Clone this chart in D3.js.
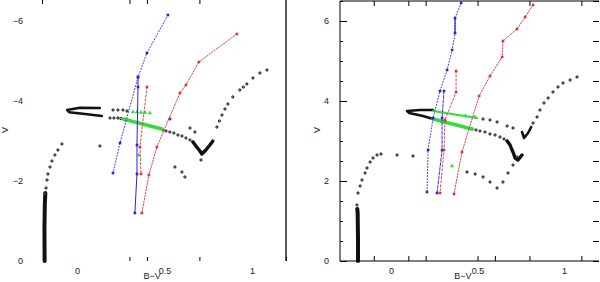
<!DOCTYPE html>
<html>
<head>
<meta charset="utf-8">
<script src="https://cdn.jsdelivr.net/npm/d3@7"></script>
<style>
body { margin: 0; background: #fff; }
svg { display: block; }
text { font-family: "Liberation Sans", Arial, sans-serif; font-size: 9px; fill: #222; }
</style>
</head>
<body>
<svg id="chart" width="600" height="282"></svg>
<script>
// --- left panel data (B-V, V) ---
const leftMS = [[-0.185, 0], [-0.186, -0.8], [-0.184, -1.4], [-0.181, -1.7]];
const leftSG = [[-0.183, -1.675], [-0.177, -1.825], [-0.171, -2.025], [-0.166, -2.175], [-0.154, -2.35], [-0.143, -2.5], [-0.126, -2.65], [-0.109, -2.775], [-0.086, -2.925], [0.131, -2.875]];
const leftHook = [[0.131, -3.825], [0.017, -3.83], [-0.057, -3.775], [-0.045, -3.72], [0.046, -3.675], [0.143, -3.625]];
const leftHookDots = [[0.206, -3.775], [0.234, -3.775], [0.263, -3.775], [0.286, -3.75], [0.189, -3.575], [0.211, -3.575], [0.234, -3.575], [0.251, -3.56]];
const leftGreenBand = [[0.263, -3.55], [0.486, -3.3]];
const leftGreenTri = [[0.32, -3.725], [0.343, -3.725], [0.366, -3.715], [0.389, -3.71], [0.417, -3.7], [0.354, -2.65]];
const leftRGB = [[0.491, -3.275], [0.509, -3.25], [0.531, -3.225], [0.554, -3.2], [0.577, -3.15], [0.6, -3.125], [0.623, -3.075], [0.646, -3.025], [0.663, -2.975]];
const leftClump = [[0.663, -2.975], [0.68, -2.875], [0.703, -2.75], [0.714, -2.675], [0.737, -2.775], [0.76, -2.9], [0.777, -3.0]];
const leftAGB = [[0.8, -3.35], [0.814, -3.5], [0.829, -3.65], [0.846, -3.8], [0.863, -3.925], [0.891, -4.1], [0.931, -4.275], [0.951, -4.35], [0.971, -4.425], [1.006, -4.575], [1.046, -4.7], [1.086, -4.775]];
const leftScatter = [[0.56, -2.35], [0.6, -2.225], [0.617, -2.1], [0.709, -2.525], [0.646, -3.325], [0.674, -3.225], [0.531, -3.55]];
const leftBlueA = [[0.52, -6.15], [0.4, -5.2], [0.349, -4.6], [0.246, -2.95], [0.206, -2.2]];
const leftBlueB = [[0.349, -4.6], [0.349, -4.35], [0.343, -2.9], [0.343, -2.175], [0.331, -1.2]];
const leftRedA = [[0.914, -5.675], [0.697, -4.975], [0.623, -4.4], [0.589, -4.2], [0.457, -2.85], [0.411, -2.15], [0.371, -1.2]];
const leftRedB = [[0.4, -4.35], [0.36, -2.85], [0.366, -2.175]];

// --- right panel data ---
const rightMS = [[-0.191, 0], [-0.191, 0.6], [-0.193, 1.2], [-0.195, 1.3]];
const rightSG = [[-0.197, 1.4], [-0.191, 1.7], [-0.179, 1.875], [-0.168, 2.025], [-0.15, 2.2], [-0.139, 2.325], [-0.121, 2.475], [-0.104, 2.575], [-0.081, 2.65], [-0.058, 2.675], [0.035, 2.65], [0.127, 2.625]];
const rightHook = [[0.243, 3.775], [0.168, 3.775], [0.092, 3.75], [0.105, 3.7], [0.185, 3.625], [0.243, 3.55]];
const rightGreenUpper = [[0.243, 3.75], [0.497, 3.575]];
const rightGreenBand = [[0.243, 3.55], [0.468, 3.3]];
const rightGreenTri = [[0.43, 3.625], [0.486, 3.6], [0.353, 2.375]];
const rightRGB = [[0.468, 3.3], [0.491, 3.275], [0.514, 3.25], [0.543, 3.225], [0.572, 3.175], [0.601, 3.15], [0.63, 3.1], [0.653, 3.05], [0.671, 3.0]];
const rightClump = [[0.671, 3.0], [0.688, 2.9], [0.697, 2.8], [0.705, 2.725], [0.717, 2.575], [0.734, 2.525], [0.757, 2.65]];
const rightUpperDots = [[0.532, 3.55], [0.572, 3.525], [0.613, 3.475], [0.671, 3.375], [0.705, 3.325]];
const rightCheck = [[0.757, 3.225], [0.769, 3.075], [0.792, 3.2], [0.81, 3.35]];
const rightAGB = [[0.821, 3.45], [0.844, 3.6], [0.861, 3.775], [0.884, 3.95], [0.908, 4.075], [0.936, 4.225], [0.965, 4.35], [0.994, 4.45], [1.035, 4.525], [1.075, 4.6]];
const rightLower = [[0.439, 2.225], [0.486, 2.175], [0.532, 2.1], [0.572, 1.975], [0.613, 1.825], [0.647, 1.975], [0.676, 2.2], [0.705, 2.4], [0.728, 2.6]];
const rightBlueA = [[0.405, 6.45], [0.37, 6.075], [0.37, 5.7], [0.353, 5.275], [0.324, 4.775], [0.283, 4.25], [0.243, 3.575], [0.214, 2.775], [0.208, 1.725]];
const rightBlueTop = [[0.37, 6.075], [0.37, 5.7]];
const rightBlueB = [[0.306, 4.25], [0.295, 3.575], [0.295, 2.775], [0.266, 1.7]];
const rightRedA = [[0.821, 6.4], [0.775, 6.1], [0.728, 5.8], [0.647, 5.5], [0.642, 5.1], [0.572, 4.625], [0.509, 4.125], [0.41, 2.725], [0.364, 1.675]];
const rightRedB = [[0.376, 4.75], [0.376, 4.225], [0.312, 3.525], [0.306, 2.775], [0.283, 1.7]];

// ticks
const leftXTicksTop = [-0.2, 0.3, 0.4, 0.7];
const leftXTicksBottom = [0.3, 0.4, 0.7, 1.195];
const rightXTicksTop = [-0.1, 0.1, 0.2, 0.5, 0.8, 1.1];
const rightXTicksBottom = [-0.1, 0.1, 0.2, 0.5, 0.6, 0.8, 1.1];
const xLabels = [0, 0.5, 1];
const leftYLabels = [-6, -4, -2, 0];
const rightYLabels = [6, 4, 2, 0];
const rightYMinor = d3.range(0, 6.6, 0.5);

const BLUE = "#2424d8", RED = "#e0303a", GREEN = "#33dd33", BLACK = "#111";
const fmt = d3.format("");

const svg = d3.select("#chart");

const xL = d3.scaleLinear().domain([-0.2, 1.195]).range([42, 286]);
const yL = d3.scaleLinear().domain([0, -6.525]).range([261, 0]);
const xR = d3.scaleLinear().domain([-0.295, 1.202]).range([340, 599]);
const yR = d3.scaleLinear().domain([0, 6.5]).range([261, 1]);

function drawLayers(g, x, y, layers) {
    const line = d3.line().x(d => x(d[0])).y(d => y(d[1]));
    layers.forEach(l => {
        if (l.kind === "line") {
            g.append("path")
                .attr("d", line(l.data))
                .attr("fill", "none")
                .attr("stroke", l.color)
                .attr("stroke-width", l.width)
                .attr("stroke-dasharray", l.dash || null)
                .attr("stroke-linecap", "round")
                .attr("stroke-linejoin", "round");
        } else if (l.kind === "dots") {
            g.selectAll(null).data(l.data).enter().append("circle")
                .attr("cx", d => x(d[0])).attr("cy", d => y(d[1]))
                .attr("r", 1.1)
                .attr("fill", "#fff").attr("stroke", "#000").attr("stroke-width", 1);
        } else if (l.kind === "squares") {
            g.selectAll(null).data(l.data).enter().append("rect")
                .attr("x", d => x(d[0]) - 1.3).attr("y", d => y(d[1]) - 1.3)
                .attr("width", 2.6).attr("height", 2.6)
                .attr("fill", l.color);
        } else if (l.kind === "tris") {
            g.selectAll(null).data(l.data).enter().append("path")
                .attr("transform", d => `translate(${x(d[0])},${y(d[1])})`)
                .attr("d", d3.symbol(d3.symbolTriangle, 8)())
                .attr("fill", l.color);
        }
    });
}

// ---------- left panel ----------
const gL = svg.append("g");
drawLayers(gL, xL, yL, [
    { data: leftMS, kind: "line", color: BLACK, width: 4 },
    { data: leftSG, kind: "dots", color: BLACK },
    { data: leftHook, kind: "line", color: BLACK, width: 2.4 },
    { data: leftHookDots, kind: "dots", color: BLACK },
    { data: leftRGB, kind: "dots", color: BLACK },
    { data: leftClump, kind: "line", color: BLACK, width: 3.4 },
    { data: leftAGB, kind: "dots", color: BLACK },
    { data: leftScatter, kind: "dots", color: BLACK },
    { data: leftGreenBand, kind: "line", color: GREEN, width: 3.6 },
    { data: leftGreenTri, kind: "tris", color: GREEN },
    { data: leftBlueA, kind: "line", color: BLUE, width: 0.9, dash: "1,2" },
    { data: leftBlueB, kind: "line", color: BLUE, width: 1 },
    { data: leftRedA, kind: "line", color: RED, width: 0.9, dash: "1.5,1.5" },
    { data: leftRedB, kind: "line", color: RED, width: 0.9, dash: "2,2" },
    { data: leftBlueA, kind: "squares", color: BLUE },
    { data: leftBlueB, kind: "squares", color: BLUE },
    { data: leftRedA, kind: "squares", color: RED },
    { data: leftRedB, kind: "squares", color: RED }
]);

// right frame line of left panel
gL.append("line")
    .attr("x1", xL(1.195)).attr("x2", xL(1.195))
    .attr("y1", 0).attr("y2", yL(0))
    .attr("stroke", "#000").attr("stroke-width", 1.3);

gL.append("g").call(d3.axisTop(xL).tickValues(leftXTicksTop).tickSize(-4).tickFormat(""))
    .call(a => a.select(".domain").remove());
gL.append("g").attr("transform", `translate(0,${yL(0)})`)
    .call(d3.axisBottom(xL).tickValues(leftXTicksBottom).tickSize(-4).tickFormat(""))
    .call(a => a.select(".domain").remove());
gL.append("g").attr("transform", `translate(0,${yL(0)})`)
    .call(d3.axisBottom(xL).tickValues(xLabels).tickSize(0).tickPadding(7).tickFormat(fmt))
    .call(a => a.select(".domain").remove());
gL.append("g").attr("transform", "translate(23,0)")
    .call(d3.axisLeft(yL).tickValues(leftYLabels).tickSize(0).tickPadding(0).tickFormat(fmt))
    .call(a => a.select(".domain").remove());

// ---------- right panel ----------
const gR = svg.append("g");
drawLayers(gR, xR, yR, [
    { data: rightMS, kind: "line", color: BLACK, width: 4 },
    { data: rightSG, kind: "dots", color: BLACK },
    { data: rightHook, kind: "line", color: BLACK, width: 2.4 },
    { data: rightRGB, kind: "dots", color: BLACK },
    { data: rightClump, kind: "line", color: BLACK, width: 3.4 },
    { data: rightUpperDots, kind: "dots", color: BLACK },
    { data: rightCheck, kind: "line", color: BLACK, width: 2.6 },
    { data: rightAGB, kind: "dots", color: BLACK },
    { data: rightLower, kind: "dots", color: BLACK },
    { data: rightGreenUpper, kind: "line", color: GREEN, width: 2.2 },
    { data: rightGreenBand, kind: "line", color: GREEN, width: 3.6 },
    { data: rightGreenTri, kind: "tris", color: GREEN },
    { data: rightBlueA, kind: "line", color: BLUE, width: 0.9, dash: "1,2" },
    { data: rightBlueTop, kind: "line", color: BLUE, width: 1.2 },
    { data: rightBlueB, kind: "line", color: BLUE, width: 0.9, dash: "3,1.5" },
    { data: rightRedA, kind: "line", color: RED, width: 0.9, dash: "1.5,1.5" },
    { data: rightRedB, kind: "line", color: RED, width: 0.9, dash: "2,2" },
    { data: rightBlueA, kind: "squares", color: BLUE },
    { data: rightBlueB, kind: "squares", color: BLUE },
    { data: rightRedA, kind: "squares", color: RED },
    { data: rightRedB, kind: "squares", color: RED }
]);

// frame: top, left, bottom
const [rx0, rx1] = xR.range();
gR.append("path")
    .attr("d", `M${rx1},${yR(6.5)}H${rx0}V${yR(0)}H${rx1}`)
    .attr("fill", "none").attr("stroke", "#000").attr("stroke-width", 1);

gR.append("g").attr("transform", `translate(0,${yR(6.5)})`)
    .call(d3.axisTop(xR).tickValues(rightXTicksTop).tickSize(-5).tickFormat(""))
    .call(a => a.select(".domain").remove());
gR.append("g").attr("transform", `translate(0,${yR(0)})`)
    .call(d3.axisBottom(xR).tickValues(rightXTicksBottom).tickSize(-5).tickFormat(""))
    .call(a => a.select(".domain").remove());
gR.append("g").attr("transform", `translate(0,${yR(0)})`)
    .call(d3.axisBottom(xR).tickValues(xLabels).tickSize(0).tickPadding(7).tickFormat(fmt))
    .call(a => a.select(".domain").remove());
gR.append("g").attr("transform", `translate(${rx0},0)`)
    .call(d3.axisRight(yR).tickValues(rightYMinor.filter(v => v % 2 !== 0)).tickSize(3).tickFormat(""))
    .call(a => a.select(".domain").remove());
gR.append("g").attr("transform", `translate(${rx0},0)`)
    .call(d3.axisLeft(yR).tickValues(rightYLabels).tickSize(-7).tickPadding(11).tickFormat(fmt))
    .call(a => a.select(".domain").remove());
gR.append("g").attr("transform", `translate(${rx1},0)`)
    .call(d3.axisLeft(yR).tickValues(rightYMinor).tickSize(6).tickFormat(""))
    .call(a => a.select(".domain").remove());

svg.selectAll(".tick text").attr("font-size", 9).attr("fill", "#222")
    .attr("font-family", "Liberation Sans, Arial, sans-serif");
svg.selectAll(".tick line").attr("stroke", "#000");

// axis titles
[[xL, 0.43], [xR, 0.415]].forEach(([x, v]) => {
    svg.append("text").attr("x", x(v)).attr("y", 279).attr("text-anchor", "middle").text("B\u2212V");
});
[8, 320].forEach(px => {
    svg.append("text").attr("transform", `translate(${px},130) rotate(-90)`)
        .attr("text-anchor", "middle").text("V");
});
</script>
</body>
</html>
